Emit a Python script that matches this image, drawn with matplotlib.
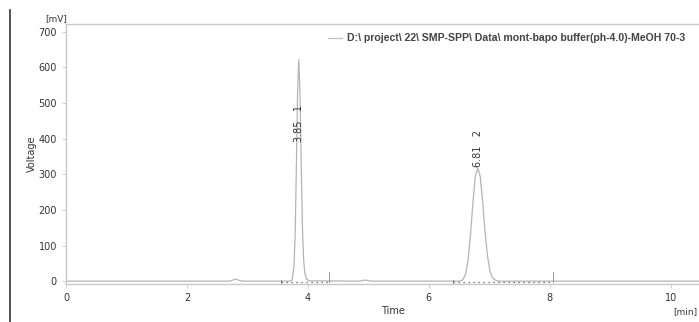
import matplotlib
matplotlib.use('agg')
import matplotlib.pyplot as plt
from matplotlib.lines import Line2D

# trace (time in min, signal in mV)
trace_t = [0.0, 2.70, 2.76, 2.80, 2.85, 2.92,
           3.70, 3.74, 3.77, 3.79, 3.81, 3.83, 3.85, 3.87, 3.89, 3.91, 3.93, 3.95, 3.98, 4.02,
           4.85, 4.95, 5.05,
           6.50, 6.56, 6.61, 6.65, 6.69, 6.73, 6.77, 6.81, 6.85, 6.89, 6.93, 6.97, 7.01, 7.05, 7.10, 7.16,
           10.8]
trace_v = [0, 0, 3, 6, 3, 0,
           0, 3, 40, 130, 320, 530, 622, 530, 330, 155, 62, 22, 6, 1,
           0, 3, 0,
           0, 3, 20, 60, 130, 220, 295, 318, 295, 225, 140, 72, 30, 10, 3, 0,
           0]

peak_rt = [3.85, 6.81]
peak_no = [1, 2]
peak_label_y = [442, 372]
base_start = [3.55, 6.40]
base_end = [4.35, 8.05]

# the file name is cut by the right edge of the screenshot
legend_text = r'D:\ project\ 22\ SMP-SPP\ Data\ mont-bapo buffer(ph-4.0)-MeOH 70-3'

fig = plt.figure(figsize=(6.99, 3.22), dpi=100)
ax = fig.add_axes([66 / 699, 38 / 322, 653 / 699, 260 / 322])

grey = '#c8c8c8'
ax.plot(trace_t, trace_v, color='#b4b4b4', lw=0.9)

# integration baselines
for s, e in zip(base_start, base_end):
    ax.plot([s, e], [-3, -3], color='#555555', lw=0.9, ls=(0, (1, 3)))
    ax.plot([s, s], [-6, 3], color='#777777', lw=0.6)
    ax.plot([e, e], [-3, 25], color='#999999', lw=0.7)

# peak labels
for rt, n, y in zip(peak_rt, peak_no, peak_label_y):
    ax.text(rt, y, f'{rt:.2f}   {n}', rotation=90, ha='center', va='center',
            fontsize=7, color='#333333')

ax.set_xlim(0, 10.8)
ax.set_ylim(-8, 722)
ax.set_xticks([0, 2, 4, 6, 8, 10])
ax.set_yticks([0, 100, 200, 300, 400, 500, 600, 700])
ax.tick_params(labelsize=7, colors='#333333', length=3, width=0.6)
ax.tick_params(axis='both', color=grey)
for sp in ax.spines.values():
    sp.set_color(grey)
    sp.set_linewidth(1.0)
ax.spines['right'].set_visible(False)

ax.set_xlabel('Time', fontsize=7, color='#333333', labelpad=2)
ax.set_ylabel('Voltage', fontsize=7, color='#333333', labelpad=1)

fig.text(45 / 699, 1 - 19 / 322, '[mV]', fontsize=6.5, color='#333333', va='center')
fig.text(697 / 699, 1 - 312 / 322, '[min]', fontsize=6.5, color='#333333', va='center', ha='right')

# legend entry
leg_y = 1 - 38 / 322
fig.add_artist(Line2D([328 / 699, 342 / 699], [leg_y, leg_y], color='#c0c0c0', lw=0.9))
fig.text(347 / 699, leg_y, legend_text, fontsize=7.6, family='Liberation Sans',
         fontweight='bold', color='#444444', va='center')

# dark border on the left of the screenshot
fig.add_artist(Line2D([10 / 699, 10 / 699], [0, 1 - 10 / 322], color='#333333', lw=1.2))

fig.savefig('out.png', dpi=100)
